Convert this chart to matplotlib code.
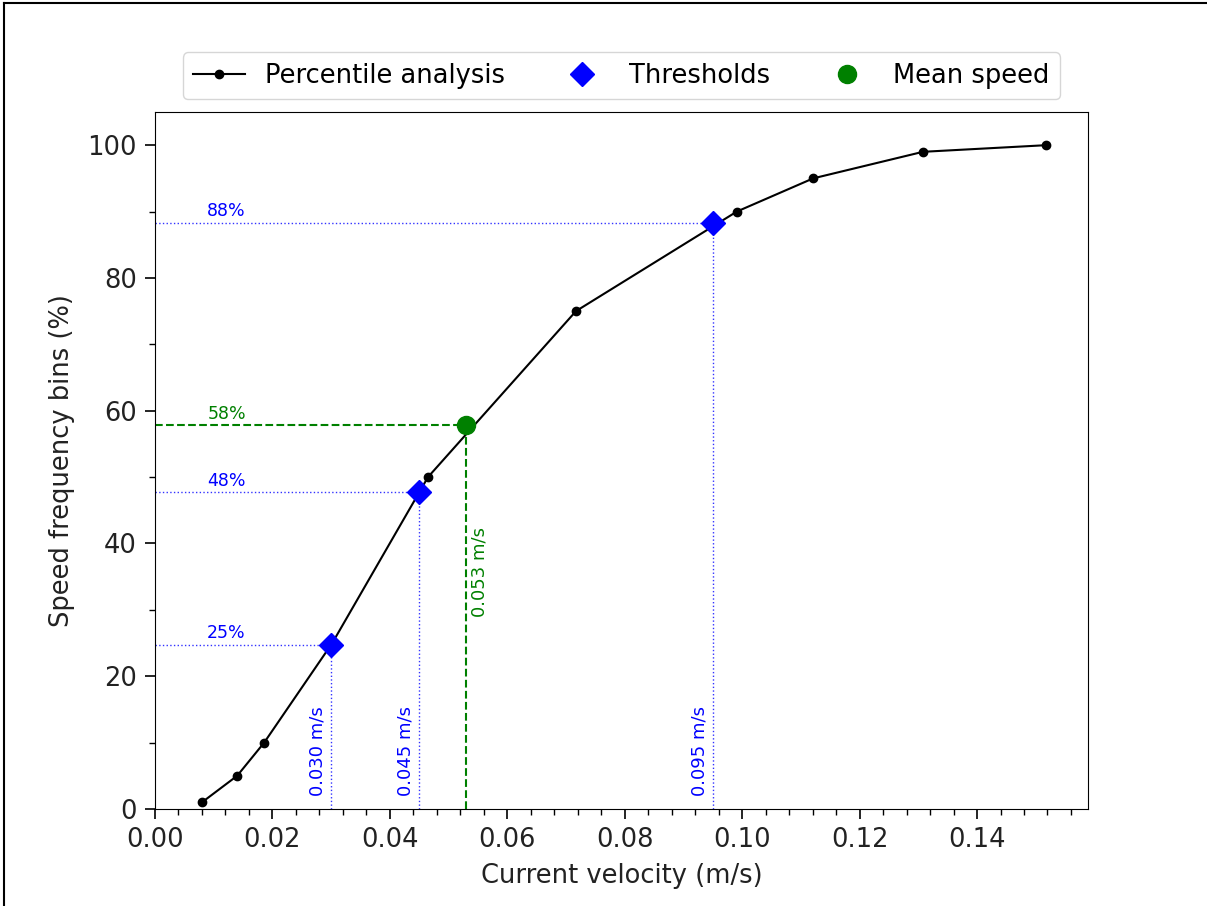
import numpy as np
import matplotlib
matplotlib.use("Agg")
import matplotlib.pyplot as plt
from matplotlib.ticker import AutoMinorLocator
from matplotlib.lines import Line2D

# percentile curve
speeds = [0.0080, 0.0140, 0.0186, 0.0302, 0.0465, 0.0717, 0.0991, 0.1121, 0.1308, 0.1518]
percents = [1, 5, 10, 25, 50, 75, 90, 95, 99, 100]

# thresholds and mean
thr_speeds = [0.030, 0.045, 0.095]
thr_percents = [24.7, 47.7, 88.3]
thr_labels = ["25%", "48%", "88%"]
mean_speed = 0.053
mean_percent = 57.8

fig = plt.figure(figsize=(12.07, 9.06), dpi=100)
ax = fig.add_axes([0.1284, 0.1071, 0.7730, 0.7693])

ax.plot(speeds, percents, color="black", marker="o", markersize=6, linewidth=1.5,
        label="Percentile analysis", zorder=3)

for v, p, lab in zip(thr_speeds, thr_percents, thr_labels):
    ax.plot([0, v], [p, p], color="blue", linestyle=":", linewidth=1, alpha=0.8, zorder=2)
    ax.plot([v, v], [0, p], color="blue", linestyle=":", linewidth=1, alpha=0.8, zorder=2)
    ax.text(0.0089, p + 0.4, lab, color="blue", fontsize=12.5, ha="left", va="bottom")
    ax.text(v - 0.0008, 2, f"{v:.3f} m/s", color="blue", fontsize=13,
            rotation=90, ha="right", va="bottom")

ax.plot(thr_speeds, thr_percents, color="blue", marker="D", markersize=12,
        linestyle="none", label="Thresholds", zorder=4)

ax.plot([0, mean_speed], [mean_percent, mean_percent], color="green", linestyle="--",
        linewidth=1.5, zorder=2)
ax.plot([mean_speed, mean_speed], [0, mean_percent], color="green", linestyle="--",
        linewidth=1.5, zorder=2)
ax.text(0.0089, mean_percent + 0.4, f"{mean_percent:.0f}%", color="green", fontsize=12.5,
        ha="left", va="bottom")
ax.text(mean_speed + 0.0008, mean_percent / 2, f"{mean_speed:.3f} m/s", color="green",
        fontsize=13, rotation=90, ha="left", va="bottom")
ax.plot([mean_speed], [mean_percent], color="green", marker="o", markersize=13,
        linestyle="none", label="Mean speed", zorder=4)

ax.set_xlim(0, 0.1589)
ax.set_ylim(0, 105)
ax.xaxis.set_minor_locator(AutoMinorLocator(5))
ax.yaxis.set_minor_locator(AutoMinorLocator(2))
ax.tick_params(labelsize=18.5, length=7, width=1.2, pad=6, labelcolor="#222222")
ax.tick_params(which="minor", length=4, width=1)
ax.set_xlabel("Current velocity (m/s)", fontsize=18.5, labelpad=7, color="#222222")
ax.set_ylabel("Speed frequency bins (%)", fontsize=18.5, labelpad=9, color="#222222")

ax.legend(loc="center", bbox_to_anchor=(0.5, 1.052), ncol=3, fontsize=18.5)

# screenshot border at left and top
fig.add_artist(Line2D([0.0029, 0.0029], [0, 0.9965], color="black", linewidth=1.5,
                      transform=fig.transFigure))
fig.add_artist(Line2D([0.0029, 1], [0.9965, 0.9965], color="black", linewidth=1.5,
                      transform=fig.transFigure))

fig.savefig("out.png", dpi=100)
